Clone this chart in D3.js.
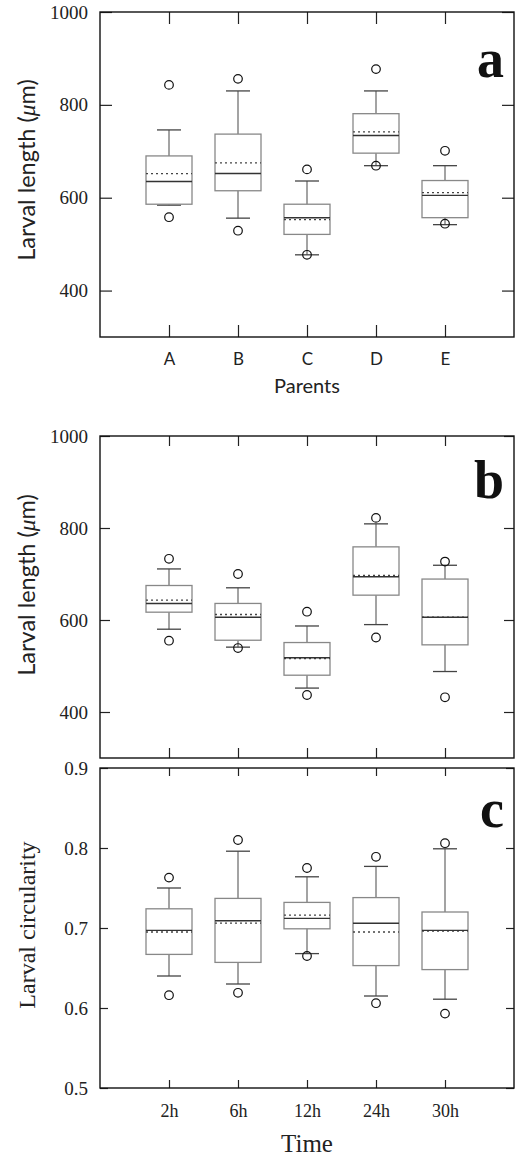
<!DOCTYPE html>
<html>
<head>
<meta charset="utf-8">
<script src="https://cdn.jsdelivr.net/npm/d3@7"></script>
<style>
  body { margin: 0; background: #fff; }
  svg { display: block; }
</style>
</head>
<body>
<div id="chart"></div>
<script>
// categories
const parents = ["A", "B", "C", "D", "E"];
const times = ["2h", "6h", "12h", "24h", "30h"];

// panel a : larval length by parents
const aLow = [584, 556, 477, 669, 542];
const aQ1 = [586, 615, 521, 696, 557];
const aMedian = [635, 652, 557, 734, 605];
const aMean = [652, 675, 553, 742, 611];
const aQ3 = [690, 737, 586, 781, 637];
const aHigh = [746, 830, 636, 830, 669];
const aOutHigh = [843, 856, 661, 877, 701];
const aOutLow = [558, 529, 477, 669, 544];

// panel b : larval length by time
const bLow = [580, 541, 452, 590, 488];
const bQ1 = [617, 556, 480, 654, 546];
const bMedian = [636, 606, 518, 694, 606];
const bMean = [643, 612, 516, 697, 606];
const bQ3 = [675, 636, 551, 759, 689];
const bHigh = [711, 670, 587, 809, 719];
const bOutHigh = [733, 700, 618, 822, 727];
const bOutLow = [555, 539, 437, 562, 432];

// panel c : larval circularity by time
const cLow = [0.640, 0.630, 0.668, 0.615, 0.611];
const cQ1 = [0.667, 0.657, 0.699, 0.653, 0.648];
const cMedian = [0.697, 0.709, 0.712, 0.706, 0.697];
const cMean = [0.695, 0.706, 0.716, 0.695, 0.696];
const cQ3 = [0.724, 0.737, 0.732, 0.738, 0.720];
const cHigh = [0.750, 0.796, 0.764, 0.777, 0.799];
const cOutHigh = [0.763, 0.810, 0.775, 0.789, 0.806];
const cOutLow = [0.616, 0.619, 0.665, 0.606, 0.593];

const lengthTicks = [400, 600, 800, 1000];
const circTicks = [0.5, 0.6, 0.7, 0.8, 0.9];

const W = 516, H = 1156;
const left = 100, right = 514;

const svg = d3.select("#chart").append("svg")
  .attr("width", W)
  .attr("height", H);

const serif = "'Liberation Serif', serif";
const sans = "Lato, 'Liberation Sans', sans-serif";

function drawPanel({ top, bottom, domain, ticks, fmt, cats, low, q1, med, mean, q3, high, outHigh, outLow, letter, showX, tick }) {
  const x = d3.scalePoint().domain(cats).range([left, right]).padding(1);
  const y = d3.scaleLinear().domain(domain).range([bottom, top]);
  const g = svg.append("g");

  // boxes
  const bw = 23, cw = 12;
  cats.forEach((c, i) => {
    const cx = x(c);
    // whiskers
    g.append("line").attr("x1", cx).attr("x2", cx)
      .attr("y1", y(q3[i])).attr("y2", y(high[i]))
      .attr("stroke", "#666").attr("stroke-width", 1.2);
    g.append("line").attr("x1", cx).attr("x2", cx)
      .attr("y1", y(q1[i])).attr("y2", y(low[i]))
      .attr("stroke", "#666").attr("stroke-width", 1.2);
    g.append("line").attr("x1", cx - cw).attr("x2", cx + cw)
      .attr("y1", y(high[i])).attr("y2", y(high[i]))
      .attr("stroke", "#444").attr("stroke-width", 1.3);
    g.append("line").attr("x1", cx - cw).attr("x2", cx + cw)
      .attr("y1", y(low[i])).attr("y2", y(low[i]))
      .attr("stroke", "#444").attr("stroke-width", 1.3);
    // box
    g.append("rect")
      .attr("x", cx - bw).attr("width", bw * 2)
      .attr("y", y(q3[i])).attr("height", y(q1[i]) - y(q3[i]))
      .attr("fill", "none").attr("stroke", "#888").attr("stroke-width", 1.3);
    // mean (dotted) and median
    g.append("line").attr("x1", cx - bw).attr("x2", cx + bw)
      .attr("y1", y(mean[i])).attr("y2", y(mean[i]))
      .attr("stroke", "#444").attr("stroke-width", 1.3)
      .attr("stroke-dasharray", "2,3");
    g.append("line").attr("x1", cx - bw).attr("x2", cx + bw)
      .attr("y1", y(med[i])).attr("y2", y(med[i]))
      .attr("stroke", "#333").attr("stroke-width", 1.4);
    // outliers
    [outHigh[i], outLow[i]].forEach(v => {
      g.append("circle").attr("cx", cx).attr("cy", y(v)).attr("r", 4.3)
        .attr("fill", "none").attr("stroke", "#111").attr("stroke-width", 1.2);
    });
  });

  // axes, ticks pointing inward
  const yl = g.append("g").attr("transform", `translate(${left},0)`)
    .call(d3.axisLeft(y).tickValues(ticks).tickFormat(fmt).tickSize(-tick).tickPadding(12));
  yl.selectAll("text").attr("font-family", serif).attr("font-size", 19).attr("fill", "#222");
  g.append("g").attr("transform", `translate(${right},0)`)
    .call(d3.axisRight(y).tickValues(ticks).tickFormat("").tickSize(-tick));
  g.append("g").attr("transform", `translate(0,${top})`)
    .call(d3.axisTop(x).tickFormat("").tickSize(-tick));
  const xb = g.append("g").attr("transform", `translate(0,${bottom})`)
    .call(d3.axisBottom(x).tickSize(-tick).tickPadding(showX ? 16 : 0)
      .tickFormat(showX ? (d => d) : ""));
  g.selectAll(".domain").remove();
  g.selectAll(".tick line").attr("stroke", "#222").attr("stroke-width", 1.2);

  // frame
  g.append("rect").attr("x", left).attr("y", top)
    .attr("width", right - left).attr("height", bottom - top)
    .attr("fill", "none").attr("stroke", "#111").attr("stroke-width", 1.4);

  // panel letter
  g.append("text").attr("x", 504).attr("y", top + letter.dy)
    .attr("text-anchor", "end")
    .attr("font-family", serif).attr("font-weight", "bold")
    .attr("font-size", 54).attr("fill", "#111")
    .text(letter.t);

  return { x, y, g, xb };
}

// panel a
const pa = drawPanel({
  top: 12, bottom: 337, domain: [300, 1000], ticks: lengthTicks, fmt: d3.format("d"),
  cats: parents, low: aLow, q1: aQ1, med: aMedian, mean: aMean, q3: aQ3, high: aHigh,
  outHigh: aOutHigh, outLow: aOutLow, letter: { t: "a", dy: 65 }, showX: true, tick: 12
});
pa.xb.selectAll("text").attr("font-family", sans).attr("font-size", 17).attr("fill", "#222");

// panel b
drawPanel({
  top: 436, bottom: 758, domain: [300, 1000], ticks: lengthTicks, fmt: d3.format("d"),
  cats: times, low: bLow, q1: bQ1, med: bMedian, mean: bMean, q3: bQ3, high: bHigh,
  outHigh: bOutHigh, outLow: bOutLow, letter: { t: "b", dy: 62 }, showX: false, tick: 10
});

// panel c
const pc = drawPanel({
  top: 768, bottom: 1088, domain: [0.5, 0.9], ticks: circTicks, fmt: d3.format(".1f"),
  cats: times, low: cLow, q1: cQ1, med: cMedian, mean: cMean, q3: cQ3, high: cHigh,
  outHigh: cOutHigh, outLow: cOutLow, letter: { t: "c", dy: 59 }, showX: true, tick: 8
});
pc.xb.selectAll("text").attr("font-family", serif).attr("font-size", 18).attr("fill", "#222");

// axis titles
function yTitle(cy, font, size) {
  return svg.append("text")
    .attr("transform", `translate(35,${cy}) rotate(-90)`)
    .attr("text-anchor", "middle")
    .attr("font-family", font).attr("font-size", size).attr("fill", "#222");
}
[170, 585].forEach(cy => {
  const t = yTitle(cy, sans, 23.5);
  t.append("tspan").text("Larval length (");
  t.append("tspan").attr("font-family", serif).attr("font-style", "italic").text("μ");
  t.append("tspan").text("m)");
});
yTitle(925, serif, 24).text("Larval circularity");

svg.append("text").attr("x", 307).attr("y", 393).attr("text-anchor", "middle")
  .attr("font-family", sans).attr("font-size", 20).attr("fill", "#222").text("Parents");
svg.append("text").attr("x", 307).attr("y", 1152).attr("text-anchor", "middle")
  .attr("font-family", serif).attr("font-size", 25).attr("fill", "#222").text("Time");
</script>
</body>
</html>
